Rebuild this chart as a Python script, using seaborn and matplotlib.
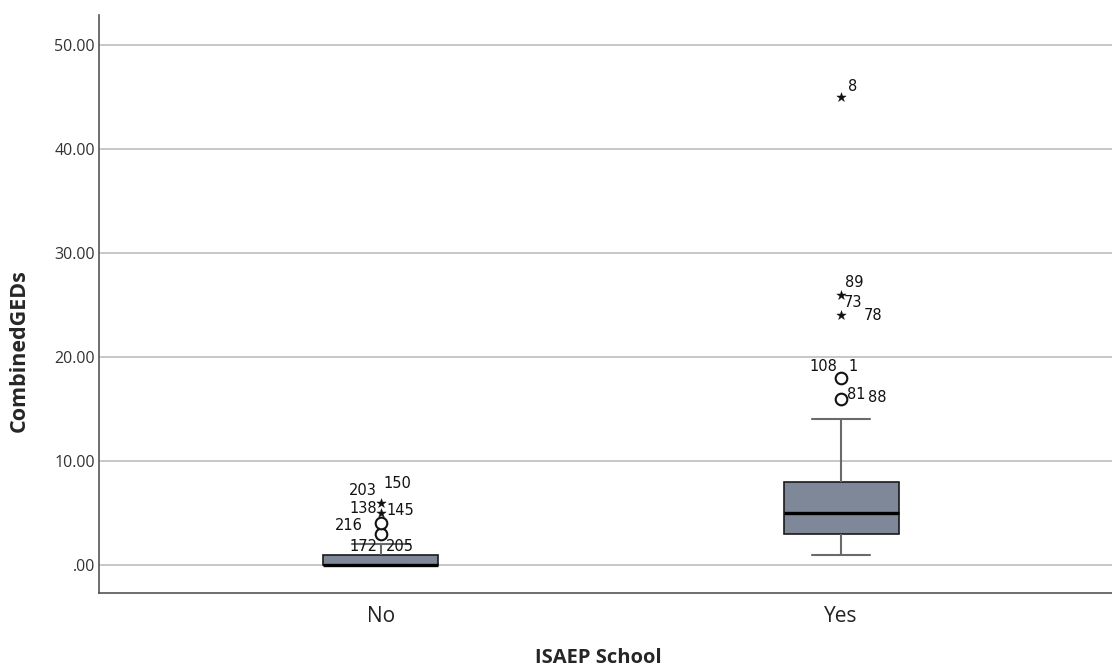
import numpy as np
import pandas as pd
import matplotlib
matplotlib.use("Agg")
import matplotlib.pyplot as plt
import seaborn as sns

# Observations per group (CombinedGEDs)
groups = ["No", "Yes"]
no_values = [0, 0, 0, 0, 0, 0, 0, 0, 0, 0, 0, 0,
             1, 1, 1, 1, 1, 1, 2, 3, 4, 5, 6]
yes_values = [1, 2, 2, 3, 3, 3, 3, 4, 4, 4, 5, 5, 5, 6, 6, 7, 7, 8, 8,
              14, 16, 18, 24, 26, 45]

# Case labels beside outlying points: (group, value, case id, dx px, dy px)
case_labels = [
    ("No", 6, "203", -18, 12), ("No", 6, "150", 16, 19),
    ("No", 5, "138", -18, 4), ("No", 5, "145", 19, 2),
    ("No", 4, "216", -32, -2),
    ("No", 3, "172", -18, -13), ("No", 3, "205", 19, -13),
    ("Yes", 45, "8", 12, 11),
    ("Yes", 26, "89", 13, 12),
    ("Yes", 24, "73", 12, 13), ("Yes", 24, "78", 32, 0),
    ("Yes", 18, "108", -18, 11), ("Yes", 18, "1", 12, 11),
    ("Yes", 16, "81", 15, 4), ("Yes", 16, "88", 36, 1),
]

y_ticks = [0, 10, 20, 30, 40, 50]
y_tick_labels = [".00", "10.00", "20.00", "30.00", "40.00", "50.00"]

df = pd.DataFrame({
    "ISAEP School": ["No"] * len(no_values) + ["Yes"] * len(yes_values),
    "CombinedGEDs": no_values + yes_values,
})

sns.set_style("white")
plt.rcParams["font.family"] = ["Open Sans", "DejaVu Sans"]

fig = plt.figure(figsize=(11.12, 6.66), dpi=100)
ax = fig.add_axes([0.089, 0.1096, 0.911, 0.8679])

ax.set_axisbelow(True)
for t in y_ticks:
    ax.axhline(t, color="#c8c8c8", lw=1.4, zorder=0)

sns.boxplot(
    data=df, x="ISAEP School", y="CombinedGEDs", order=groups,
    width=0.25, whis=1.5, showfliers=False, ax=ax,
    boxprops=dict(facecolor="#7e8898", edgecolor="#1a1a1a", linewidth=1.2),
    medianprops=dict(color="#000000", linewidth=2.4),
    whiskerprops=dict(color="#6a6a6a", linewidth=1.5),
    capprops=dict(color="#6a6a6a", linewidth=1.5),
)

# Outliers: circles beyond 1.5 IQR, stars beyond 3 IQR
group_values = {"No": no_values, "Yes": yes_values}
for i, g in enumerate(groups):
    vals = np.array(group_values[g], dtype=float)
    q1, q3 = np.percentile(vals, [25, 75])
    iqr = q3 - q1
    out = sorted(set(v for v in vals if v > q3 + 1.5 * iqr or v < q1 - 1.5 * iqr))
    for v in out:
        if v > q3 + 3 * iqr or v < q1 - 3 * iqr:
            ax.scatter([i], [v], marker="*", s=50, color="#111111",
                       linewidths=0.3, zorder=4)
        else:
            ax.scatter([i], [v], marker="o", s=70, facecolor="white",
                       edgecolor="#111111", linewidths=1.5, zorder=4)

for g, v, lab, dx, dy in case_labels:
    ax.annotate(lab, xy=(groups.index(g), v), xytext=(dx, dy),
                textcoords="offset pixels", ha="center", va="center",
                fontsize=10.5, color="#111111", family=["DejaVu Sans"])

ax.set_xlim(-0.613, 1.589)
ax.set_ylim(-2.7, 52.9)
ax.set_yticks(y_ticks)
ax.set_yticklabels(y_tick_labels, fontsize=11.5, color="#333333")
ax.tick_params(axis="x", labelsize=15, colors="#222222", length=0, pad=9)
ax.tick_params(axis="y", length=0, pad=3)
ax.set_xlabel("ISAEP School", fontsize=14.5, fontweight="bold")
ax.set_ylabel("CombinedGEDs", fontsize=15.5, fontweight="bold")
ax.xaxis.set_label_coords(0.4926, -0.095)
ax.yaxis.set_label_coords(-0.068, 0.42)

for s in ["top", "right"]:
    ax.spines[s].set_visible(False)
for s in ["left", "bottom"]:
    ax.spines[s].set_color("#555555")
    ax.spines[s].set_linewidth(1.2)

fig.savefig("out.png", dpi=100)
